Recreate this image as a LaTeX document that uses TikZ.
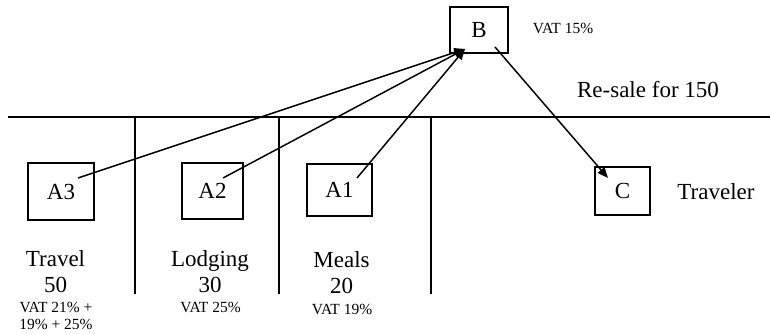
\documentclass[tikz,border=0pt]{standalone}
\usepackage{fontspec}
\setmainfont{Liberation Serif}
\usetikzlibrary{arrows.meta,calc}

\tikzset{
  box/.style={draw, line width=1pt, inner sep=0pt, font=\fontsize{17.25}{19.5}\selectfont},
  big/.style={inner sep=0pt, align=center, anchor=north, font=\fontsize{17.25}{19.5}\selectfont},
  small/.style={inner sep=0pt, align=center, anchor=north, font=\fontsize{11.6}{12.75}\selectfont},
  arr/.style={line width=1.1pt, -{Triangle[length=8pt,width=6.5pt]}},
}

\begin{document}
\begin{tikzpicture}[x=0.75pt,y=0.75pt,yscale=-1,xscale=1]
\useasboundingbox (0,0) rectangle (770,333);

%Straight Lines
\draw [line width=1.6pt]   (8,117) -- (770,117) ;
%Straight Lines
\draw [line width=1.3pt]   (135,117) -- (135,294) ;
%Straight Lines
\draw [line width=1.3pt]   (279,117) -- (279,294) ;
%Straight Lines
\draw [line width=1.3pt]   (431,117) -- (431,294) ;

% Box Nodes
\draw (61,191.5) node [box, minimum width=49.5pt, minimum height=42.75pt] (A3) {A3};
\draw (212.5,191) node [box, minimum width=45.75pt, minimum height=42pt] (A2) {A2};
\draw (339.5,190) node [box, minimum width=48.75pt, minimum height=39pt] (A1) {A1};
\draw (479,30) node [box, minimum width=43.5pt, minimum height=34.5pt] (B) {B};
\draw (622.5,191) node [box, minimum width=41.25pt, minimum height=36pt] (C) {C};

%Arrows
\draw [arr] ($(A3.center)+(17,-13.5)$) -- ($(B.center)+(-14,19)$) ;
\draw [arr] ($(A2.center)+(10.5,-13)$) -- ($(B.center)+(-14,19)$) ;
\draw [arr] ($(A1.center)+(17.5,-12)$) -- ($(B.center)+(-14,19)$) ;
\draw [arr] ($(B.center)+(16,17)$) -- ($(C.center)+(-14.5,-13)$) ;

% Text Node
\draw (563,33) node [anchor=base][inner sep=0pt][font=\fontsize{11.6}{12.75}\selectfont] (vatB) {VAT 15\%};
% Text Node
\draw (648,97) node [anchor=base][inner sep=0pt][font=\fontsize{17.25}{19.5}\selectfont] (resale) {Re-sale for 150};
% Text Node
\draw (716,199) node [anchor=base][inner sep=0pt][font=\fontsize{17.25}{19.5}\selectfont] (traveler) {Traveler};
% Text Node
\draw (55.5,250.3) node [big] (travel) {Travel\\50};
\draw (56,301.5) node [small] (travelvat) {VAT 21\% +\\19\% + 25\%};
% Text Node
\draw (210,250.3) node [big] (lodging) {Lodging\\30};
\draw (210.5,301.5) node [small] (lodgingvat) {VAT 25\%};
% Text Node
\draw (341.5,251.3) node [big] (meals) {Meals\\20};
\draw (342,303.5) node [small] (mealsvat) {VAT 19\%};

\end{tikzpicture}
\end{document}
